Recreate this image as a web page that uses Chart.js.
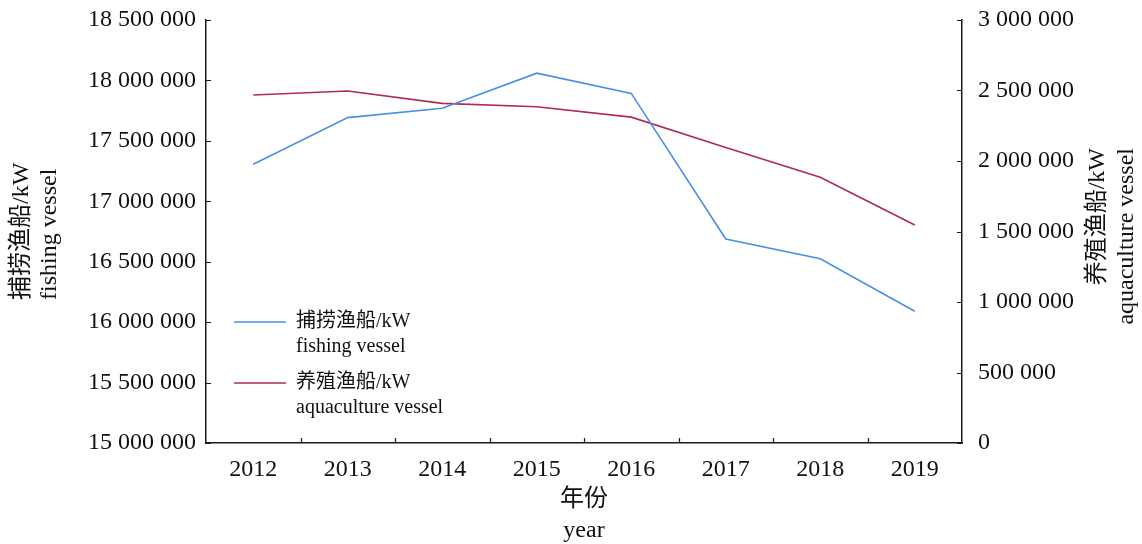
<!DOCTYPE html>
<html>
<head>
<meta charset="utf-8">
<title>Fishing vessels power</title>
<script src="https://cdn.jsdelivr.net/npm/chart.js@4/dist/chart.umd.min.js"></script>
<style>
    body { margin: 0; background: #fff; }
    canvas { display: block; }
</style>
</head>
<body>
<canvas id="vesselChart" width="1142" height="544"></canvas>
<script>
// chart data
const years = ['2012', '2013', '2014', '2015', '2016', '2017', '2018', '2019'];
const fishingKW = [17307000, 17692000, 17770000, 18060000, 17893000, 16688000, 16524000, 16090000];
const aquacultureKW = [2468000, 2496000, 2409000, 2385000, 2311000, 2095000, 1885000, 1546000];
const leftTicks = [15000000, 15500000, 16000000, 16500000, 17000000, 17500000, 18000000, 18500000];
const rightTicks = [0, 500000, 1000000, 1500000, 2000000, 2500000, 3000000];

const fishingLabel = ['捕捞渔船/kW', 'fishing vessel'];
const aquaLabel = ['养殖渔船/kW', 'aquaculture vessel'];
const xTitle = ['年份', 'year'];

const SERIF = '"Liberation Serif", "Times New Roman", "Noto Sans CJK SC", serif';
const AXIS = '#1a1a1a';

function fmt(v) {
    return String(v).replace(/\B(?=(\d{3})+(?!\d))/g, ' ');
}

// inward tick marks, drawn from the library's scales
const tickMarks = {
    id: 'tickMarks',
    afterDraw(chart) {
        const ctx = chart.ctx;
        const x = chart.scales.x, y = chart.scales.y, y1 = chart.scales.y1;
        const len = 5;
        ctx.save();
        ctx.strokeStyle = AXIS;
        ctx.lineWidth = 1.2;
        ctx.beginPath();
        leftTicks.forEach(v => {
            const py = Math.round(y.getPixelForValue(v)) + 0.5;
            ctx.moveTo(y.right, py);
            ctx.lineTo(y.right + len, py);
        });
        rightTicks.forEach(v => {
            const py = Math.round(y1.getPixelForValue(v)) + 0.5;
            ctx.moveTo(y1.left, py);
            ctx.lineTo(y1.left - len, py);
        });
        for (let i = 0; i < years.length - 1; i++) {
            const px = Math.round((x.getPixelForValue(i) + x.getPixelForValue(i + 1)) / 2) + 0.5;
            ctx.moveTo(px, x.top);
            ctx.lineTo(px, x.top - len);
        }
        ctx.stroke();
        ctx.restore();
    }
};

// axis titles and in-plot legend
const textLayer = {
    id: 'textLayer',
    afterDraw(chart) {
        const ctx = chart.ctx;
        const area = chart.chartArea;
        ctx.save();
        ctx.fillStyle = '#111';
        ctx.font = '24px ' + SERIF;
        ctx.textBaseline = 'middle';

        // left title
        ctx.save();
        ctx.translate(22, 300);
        ctx.rotate(-Math.PI / 2);
        ctx.textAlign = 'left';
        ctx.fillText(fishingLabel[0], 0, 0);
        ctx.fillText(fishingLabel[1], 0, 28);
        ctx.restore();

        // right title
        ctx.save();
        ctx.translate(1098, 148);
        ctx.rotate(-Math.PI / 2);
        ctx.textAlign = 'right';
        ctx.fillText(aquaLabel[0], 0, 0);
        ctx.fillText(aquaLabel[1], 0, 29);
        ctx.restore();

        // x title
        ctx.textAlign = 'center';
        const cx = (area.left + area.right) / 2;
        ctx.fillText(xTitle[0], cx, 500);
        ctx.fillText(xTitle[1], cx, 531);

        // legend
        ctx.font = '20px ' + SERIF;
        ctx.textAlign = 'left';
        const rows = [322, 383];
        chart.data.datasets.forEach((ds, i) => {
            const ry = rows[i];
            ctx.strokeStyle = ds.borderColor;
            ctx.lineWidth = ds.borderWidth;
            ctx.beginPath();
            ctx.moveTo(234, ry);
            ctx.lineTo(286, ry);
            ctx.stroke();
            ctx.fillStyle = '#111';
            ctx.fillText(ds.label[0], 296, ry);
            ctx.fillText(ds.label[1], 296, ry + 25);
        });
        ctx.restore();
    }
};

function fixY(width) {
    return s => {
        s.width = width;
        s.paddingTop = 0;
        s.paddingBottom = 0;
    };
}

const ctx = document.getElementById('vesselChart').getContext('2d');
new Chart(ctx, {
    type: 'line',
    data: {
        labels: years,
        datasets: [
            { label: fishingLabel, data: fishingKW, yAxisID: 'y', borderColor: '#4a8fe6', borderWidth: 1.6, pointRadius: 0, tension: 0 },
            { label: aquaLabel, data: aquacultureKW, yAxisID: 'y1', borderColor: '#b02a52', borderWidth: 1.6, pointRadius: 0, tension: 0 }
        ]
    },
    options: {
        responsive: false,
        animation: false,
        layout: { padding: { top: 20, left: 0, right: 0, bottom: 0 } },
        plugins: { legend: { display: false }, tooltip: { enabled: false } },
        scales: {
            x: {
                offset: true,
                grid: { offset: true, drawOnChartArea: false, drawTicks: false },
                border: { color: AXIS, width: 1.5 },
                ticks: { color: '#111', font: { family: SERIF, size: 24 }, padding: 12, maxRotation: 0 },
                afterFit: s => { s.height = 101; s.paddingLeft = 0; s.paddingRight = 0; }
            },
            y: {
                position: 'left',
                min: 15000000,
                max: 18500000,
                grid: { drawOnChartArea: false, drawTicks: false },
                border: { color: AXIS, width: 1.5 },
                ticks: { stepSize: 500000, color: '#111', font: { family: SERIF, size: 24 }, padding: 10, callback: v => fmt(v) },
                afterFit: fixY(206)
            },
            y1: {
                position: 'right',
                min: 0,
                max: 3000000,
                grid: { drawOnChartArea: false, drawTicks: false },
                border: { color: AXIS, width: 1.5 },
                ticks: { stepSize: 500000, color: '#111', font: { family: SERIF, size: 24 }, padding: 16, callback: v => fmt(v) },
                afterFit: fixY(180)
            }
        }
    },
    plugins: [tickMarks, textLayer]
});
</script>
</body>
</html>
